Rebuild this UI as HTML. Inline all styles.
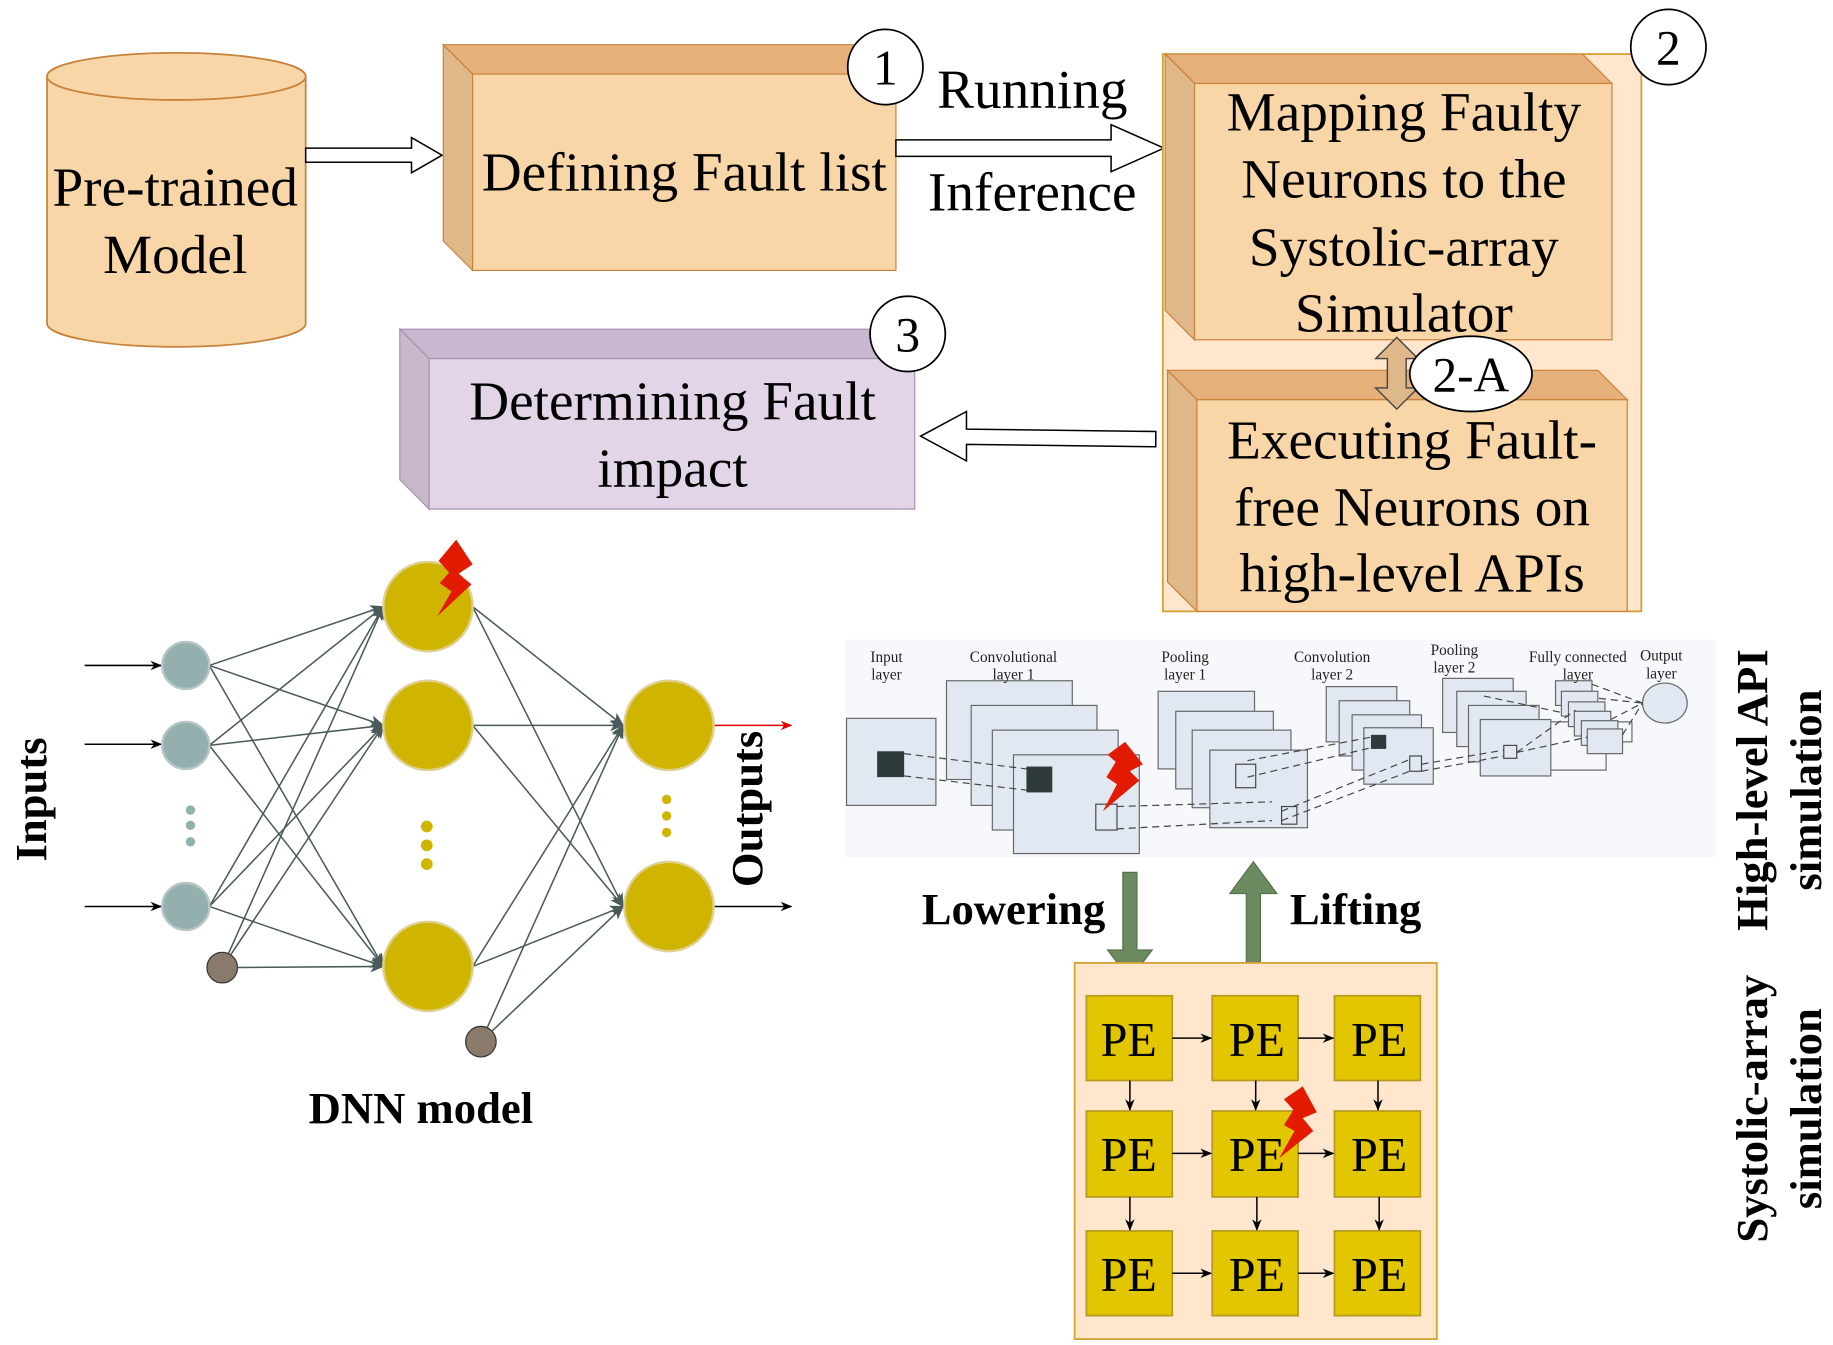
<!DOCTYPE html>
<html><head><meta charset="utf-8"><style>
html,body{margin:0;padding:0;background:#fff;}
svg{display:block;}
text{font-family:"Liberation Serif",serif;}
</style></head><body>
<svg width="1833" height="1345" viewBox="0 0 1559 1144" preserveAspectRatio="none" xmlns="http://www.w3.org/2000/svg">
<defs>
<marker id="ah" markerWidth="10" markerHeight="10" refX="9" refY="5" orient="auto" markerUnits="userSpaceOnUse"><path d="M0,1 L10,5 L0,9 L3,5z" fill="#000"/></marker>
<marker id="ag" markerWidth="12" markerHeight="12" refX="11" refY="6" orient="auto" markerUnits="userSpaceOnUse"><path d="M0,1 L12,6 L0,11 L3,6z" fill="#4a5a5a"/></marker>
<marker id="ar" markerWidth="10" markerHeight="10" refX="9" refY="5" orient="auto" markerUnits="userSpaceOnUse"><path d="M0,1 L10,5 L0,9 L3,5z" fill="#d00"/></marker>
</defs>
<!-- cylinder -->
<path d="M40,65 L40,275 A110,20 0 0 0 260,275 L260,65" fill="#f9d6a8" stroke="#c8823a" stroke-width="1.5"/>
<ellipse cx="150" cy="65" rx="110" ry="20" fill="#f9d6a8" stroke="#c8823a" stroke-width="1.5"/>
<text x="149" y="175" font-size="47" text-anchor="middle">Pre-trained</text>
<text x="149" y="232" font-size="47" text-anchor="middle">Model</text>
<path d="M260,126 L350,126 L350,117 L376,132 L350,147 L350,138 L260,138z" fill="#fff" stroke="#000" stroke-width="1.3"/>
<!-- defining fault list box -->
<path d="M377,38 L737,38 L762,63 L402,63z" fill="#e6b07a" stroke="#c8823a"/>
<path d="M377,38 L402,63 L402,230 L377,205z" fill="#deb888" stroke="#c8823a"/>
<rect x="402" y="63" width="360" height="167" fill="#f9d6a8" stroke="#c8823a"/>
<text x="582" y="162" font-size="47" text-anchor="middle">Defining Fault list</text>
<circle cx="753" cy="57" r="32" fill="#fff" stroke="#000" stroke-width="1.5"/>
<text x="753" y="72" font-size="42" text-anchor="middle">1</text>
<path d="M762,119 L945,119 L945,106 L990,126 L945,146 L945,133 L762,133z" fill="#fff" stroke="#000" stroke-width="1.3"/>
<text x="878" y="92" font-size="47" text-anchor="middle">Running</text>
<text x="878" y="179" font-size="47" text-anchor="middle">Inference</text>
<!-- group 2 -->
<rect x="989" y="46" width="407" height="474" fill="#ffe6cc" stroke="#d6a030" stroke-width="1.5"/>
<circle cx="1419" cy="40" r="32" fill="#fff" stroke="#000" stroke-width="1.5"/>
<text x="1419" y="55" font-size="42" text-anchor="middle">2</text>
<path d="M991,46 L1346,46 L1371,71 L1016,71z" fill="#e6b07a" stroke="#c8823a"/>
<path d="M991,46 L1016,71 L1016,289 L991,264z" fill="#deb888" stroke="#c8823a"/>
<rect x="1016" y="71" width="355" height="218" fill="#f9d6a8" stroke="#c8823a"/>
<text x="1194" y="111" font-size="47" text-anchor="middle">Mapping Faulty</text>
<text x="1194" y="168" font-size="47" text-anchor="middle">Neurons to the</text>
<text x="1194" y="226" font-size="47" text-anchor="middle">Systolic-array</text>
<text x="1194" y="282" font-size="47" text-anchor="middle">Simulator</text>
<path d="M993,315 L1359,315 L1384,340 L1018,340z" fill="#e6b07a" stroke="#c8823a"/>
<path d="M993,315 L1018,340 L1018,520 L993,495z" fill="#deb888" stroke="#c8823a"/>
<rect x="1018" y="340" width="366" height="180" fill="#f9d6a8" stroke="#c8823a"/>
<text x="1201" y="390" font-size="47" text-anchor="middle">Executing Fault-</text>
<text x="1201" y="447" font-size="47" text-anchor="middle">free Neurons on</text>
<text x="1201" y="503" font-size="47" text-anchor="middle">high-level APIs</text>
<path d="M1188,287 L1206,305 L1196,305 L1196,330 L1206,330 L1188,348 L1170,330 L1180,330 L1180,305 L1170,305z" fill="#deb888" stroke="#444" stroke-width="1.2"/>
<ellipse cx="1251" cy="318" rx="52" ry="32" fill="#fff" stroke="#000" stroke-width="1.5"/>
<text x="1251" y="333" font-size="42" text-anchor="middle">2-A</text>
<!-- determining fault impact -->
<path d="M340,280 L753,280 L778,305 L365,305z" fill="#c9b7cf" stroke="#a78fb0"/>
<path d="M340,280 L365,305 L365,433 L340,408z" fill="#c9b8cc" stroke="#a78fb0"/>
<rect x="365" y="305" width="413" height="128" fill="#e1d5e7" stroke="#a78fb0"/>
<text x="572" y="357" font-size="47" text-anchor="middle">Determining Fault</text>
<text x="572" y="414" font-size="47" text-anchor="middle">impact</text>
<circle cx="772" cy="284" r="32" fill="#fff" stroke="#000" stroke-width="1.5"/>
<text x="772" y="299" font-size="42" text-anchor="middle">3</text>
<path d="M983,367 L822,365 L822,350 L783,371 L822,392 L822,378 L983,380z" fill="#fff" stroke="#000" stroke-width="1.3"/>
<!-- DNN -->
<g stroke="#4a5a5a" stroke-width="1.3" fill="none" marker-end="url(#ag)">
<line x1="178" y1="566" x2="326" y2="516"/><line x1="178" y1="566" x2="326" y2="617"/><line x1="178" y1="566" x2="326" y2="822"/>
<line x1="178" y1="634" x2="326" y2="516"/><line x1="178" y1="634" x2="326" y2="617"/><line x1="178" y1="634" x2="326" y2="822"/>
<line x1="178" y1="771" x2="326" y2="516"/><line x1="178" y1="771" x2="326" y2="617"/><line x1="178" y1="771" x2="326" y2="822"/>
<line x1="189" y1="823" x2="326" y2="516"/><line x1="189" y1="823" x2="326" y2="617"/><line x1="189" y1="823" x2="326" y2="822"/>
<line x1="402" y1="516" x2="530" y2="617"/><line x1="402" y1="516" x2="530" y2="771"/>
<line x1="402" y1="617" x2="530" y2="617"/><line x1="402" y1="617" x2="530" y2="771"/>
<line x1="402" y1="822" x2="530" y2="617"/><line x1="402" y1="822" x2="530" y2="771"/>
<line x1="409" y1="886" x2="530" y2="617"/><line x1="409" y1="886" x2="530" y2="771"/>
</g>
<g stroke="#000" stroke-width="1.3" marker-end="url(#ah)">
<line x1="72" y1="566" x2="137" y2="566"/><line x1="72" y1="633" x2="137" y2="633"/><line x1="72" y1="771" x2="137" y2="771"/>
<line x1="607" y1="771" x2="673" y2="771"/>
</g>
<line x1="607" y1="617" x2="673" y2="617" stroke="#d00" stroke-width="1.3" marker-end="url(#ar)"/>
<g fill="#93b0ae" stroke="#b6c6c6" stroke-width="2">
<circle cx="158" cy="566" r="20"/><circle cx="158" cy="634" r="20"/><circle cx="158" cy="771" r="20"/>
</g>
<g fill="#93b0ae"><circle cx="162" cy="689" r="4"/><circle cx="162" cy="702" r="4"/><circle cx="162" cy="716" r="4"/></g>
<circle cx="189" cy="823" r="13" fill="#8a7a6a" stroke="#333"/>
<circle cx="409" cy="886" r="13" fill="#8a7a6a" stroke="#333"/>
<g fill="#cfb500" stroke="#e0d090" stroke-width="2">
<circle cx="364" cy="516" r="38"/><circle cx="364" cy="617" r="38"/><circle cx="364" cy="822" r="38"/>
<circle cx="569" cy="617" r="38"/><circle cx="569" cy="771" r="38"/>
</g>
<g fill="#cfb500"><circle cx="363" cy="703" r="5"/><circle cx="363" cy="719" r="5"/><circle cx="363" cy="735" r="5"/>
<circle cx="567" cy="680" r="4"/><circle cx="567" cy="694" r="4"/><circle cx="567" cy="708" r="4"/></g>
<path d="M388,459 L402,480 L390,488 L401,497 L372,524 L384,503 L374,496 L382,487 L373,477z" fill="#e21a00"/>
<text transform="translate(39,680) rotate(-90)" font-size="38" font-weight="bold" text-anchor="middle">Inputs</text>
<text transform="translate(648,688) rotate(-90)" font-size="38" font-weight="bold" text-anchor="middle">Outputs</text>
<text x="358" y="955" font-size="38" font-weight="bold" text-anchor="middle">DNN model</text>
<!-- CNN -->
<rect x="719" y="544" width="741" height="185" fill="#f7f8fb"/>
<g fill="#e2e8f2" stroke="#666" stroke-width="1">
<rect x="720" y="611" width="76" height="74"/>
<rect x="805" y="579" width="107" height="84"/><rect x="826" y="600" width="107" height="85"/><rect x="844" y="621" width="107" height="85"/><rect x="862" y="642" width="107" height="84"/>
<rect x="985" y="588" width="82" height="66"/><rect x="1000" y="605" width="83" height="66"/><rect x="1014" y="621" width="84" height="66"/><rect x="1029" y="638" width="83" height="66"/>
<rect x="1128" y="584" width="60" height="47"/><rect x="1139" y="596" width="60" height="47"/><rect x="1150" y="608" width="59" height="47"/><rect x="1160" y="619" width="59" height="48"/>
<rect x="1300" y="614" width="66" height="41" fill="none"/>
<rect x="1227" y="577" width="60" height="46"/><rect x="1239" y="588" width="59" height="47"/><rect x="1249" y="600" width="60" height="48"/><rect x="1259" y="612" width="60" height="48"/>
<rect x="1368" y="614" width="20" height="17" fill="none"/>
<rect x="1323" y="579" width="31" height="21"/><rect x="1328" y="588" width="31" height="21"/><rect x="1334" y="597" width="31" height="21"/><rect x="1339" y="605" width="31" height="21"/><rect x="1345" y="613" width="31" height="21"/><rect x="1350" y="620" width="30" height="21"/>
<ellipse cx="1416" cy="598" rx="19" ry="17"/>
</g>
<rect x="746" y="639" width="23" height="22" fill="#2f3a3a"/>
<rect x="873" y="652" width="22" height="22" fill="#2f3a3a"/>
<rect x="1166" y="625" width="13" height="12" fill="#2f3a3a"/>
<g fill="none" stroke="#444" stroke-dasharray="6,4">
<path d="M769,641 L873,654 M769,660 L873,672 M950,686 L1082,682 M950,705 L1082,698 M1061,647 L1166,627 M1061,661 L1166,636 M1090,690 L1199,646 M1090,698 L1199,656 M1209,650 L1279,638 M1209,656 L1279,643 M1290,640 L1350,627 M1290,640 L1340,604 M1262,592 L1328,606 M1354,582 L1397,598 M1360,594 L1397,598 M1370,612 L1397,598 M1380,625 L1397,598"/>
</g>
<g fill="none" stroke="#444"><rect x="932" y="684" width="18" height="22"/><rect x="1051" y="650" width="17" height="20"/><rect x="1090" y="686" width="13" height="15"/><rect x="1199" y="643" width="10" height="13"/><rect x="1279" y="634" width="11" height="11"/></g>
<path d="M957,631 L972,650 L961,656 L969,664 L938,690 L950,667 L941,661 L949,648 L942,642z" fill="#e21a00"/>
<g font-size="13" text-anchor="middle" fill="#222">
<text x="754" y="563">Input</text><text x="754" y="578">layer</text>
<text x="862" y="563">Convolutional</text><text x="862" y="578">layer 1</text>
<text x="1008" y="563">Pooling</text><text x="1008" y="578">layer 1</text>
<text x="1133" y="563">Convolution</text><text x="1133" y="578">layer 2</text>
<text x="1237" y="557">Pooling</text><text x="1237" y="572">layer 2</text>
<text x="1342" y="563">Fully connected</text><text x="1342" y="578">layer</text>
<text x="1413" y="562">Output</text><text x="1413" y="577">layer</text>
</g>
<!-- lowering/lifting -->
<path d="M955,742 L967,742 L967,808 L980,808 L961,833 L942,808 L955,808z" fill="#6c8a60" stroke="#55704a"/>
<path d="M1060,828 L1072,828 L1072,760 L1086,760 L1066,733 L1046,760 L1060,760z" fill="#6c8a60" stroke="#55704a"/>
<text x="862" y="786" font-size="38" font-weight="bold" text-anchor="middle">Lowering</text>
<text x="1153" y="786" font-size="38" font-weight="bold" text-anchor="middle">Lifting</text>
<!-- PE array -->
<rect x="914" y="819" width="308" height="320" fill="#ffe6cc" stroke="#d6a030" stroke-width="1.5"/>
<g fill="#e2c700" stroke="#b89a20" stroke-width="1.5">
<rect x="924" y="847" width="73" height="72"/><rect x="1031" y="847" width="73" height="72"/><rect x="1135" y="847" width="73" height="72"/>
<rect x="924" y="945" width="73" height="73"/><rect x="1031" y="945" width="73" height="73"/><rect x="1135" y="945" width="73" height="73"/>
<rect x="924" y="1047" width="73" height="72"/><rect x="1031" y="1047" width="73" height="72"/><rect x="1135" y="1047" width="73" height="72"/>
</g>
<g font-size="41" text-anchor="middle">
<text x="960" y="898">PE</text><text x="1069" y="898">PE</text><text x="1173" y="898">PE</text>
<text x="960" y="996">PE</text><text x="1069" y="996">PE</text><text x="1173" y="996">PE</text>
<text x="960" y="1098">PE</text><text x="1069" y="1098">PE</text><text x="1173" y="1098">PE</text>
</g>
<g stroke="#000" stroke-width="1.3" marker-end="url(#ah)">
<line x1="997" y1="883" x2="1030" y2="883"/><line x1="1104" y1="883" x2="1134" y2="883"/>
<line x1="997" y1="981" x2="1030" y2="981"/><line x1="1104" y1="981" x2="1134" y2="981"/>
<line x1="997" y1="1083" x2="1030" y2="1083"/><line x1="1104" y1="1083" x2="1134" y2="1083"/>
<line x1="961" y1="919" x2="961" y2="944"/><line x1="1068" y1="919" x2="1068" y2="944"/><line x1="1172" y1="919" x2="1172" y2="944"/>
<line x1="961" y1="1018" x2="961" y2="1046"/><line x1="1069" y1="1018" x2="1069" y2="1046"/><line x1="1173" y1="1018" x2="1173" y2="1046"/>
</g>
<path d="M1108,924 L1120,946 L1108,951 L1117,962 L1088,985 L1101,962 L1092,957 L1100,944 L1092,935z" fill="#e21a00"/>
<!-- side labels -->
<text transform="translate(1503,672) rotate(-90)" font-size="38" font-weight="bold" text-anchor="middle">High-level API</text>
<text transform="translate(1549,672) rotate(-90)" font-size="38" font-weight="bold" text-anchor="middle">simulation</text>
<text transform="translate(1503,943) rotate(-90)" font-size="38" font-weight="bold" text-anchor="middle">Systolic-array</text>
<text transform="translate(1549,943) rotate(-90)" font-size="38" font-weight="bold" text-anchor="middle">simulation</text>
</svg>
</body></html>
